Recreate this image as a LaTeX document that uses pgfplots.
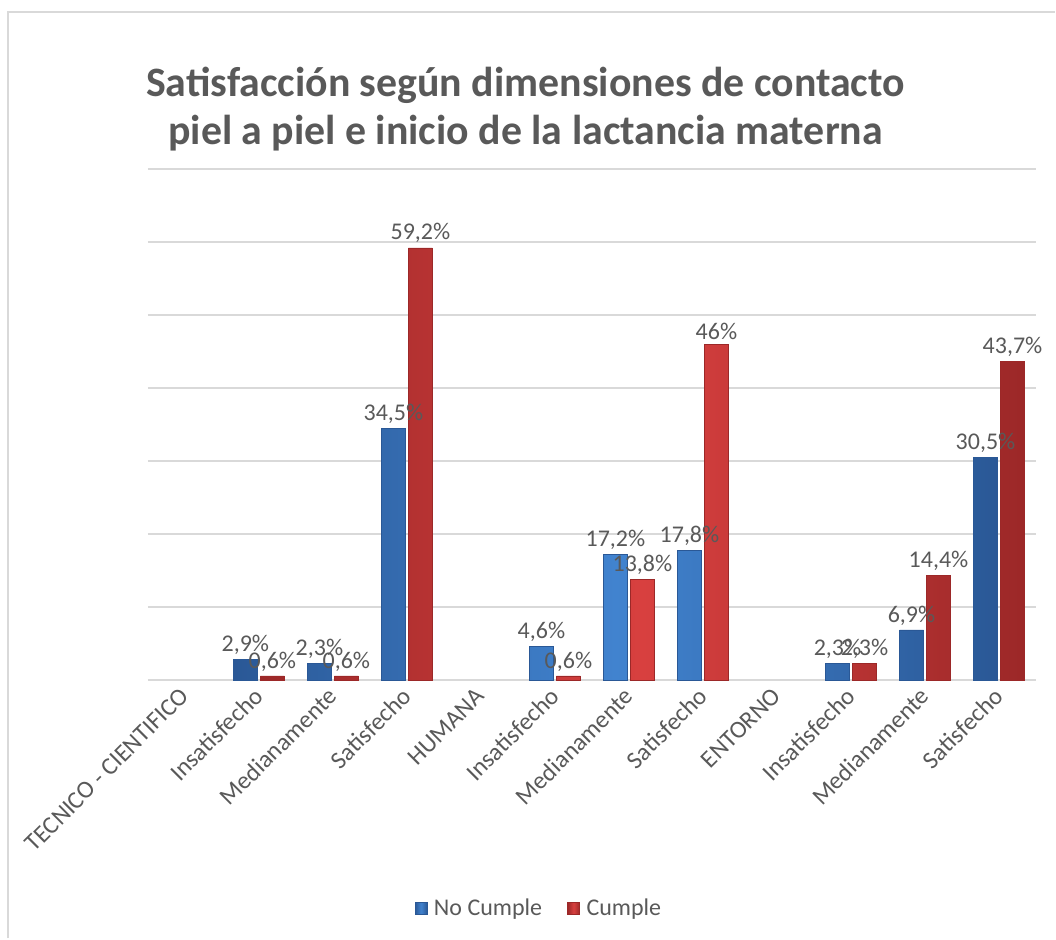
\documentclass[border=0pt]{standalone}
\usepackage{fontspec}
\setmainfont{Carlito}
\usepackage{pgfplots}
\pgfplotsset{compat=1.18}
\definecolor{txt}{HTML}{595959}
\definecolor{gridc}{HTML}{D9D9D9}
\definecolor{bluem}{HTML}{4183CF}
\definecolor{bluee}{HTML}{2A5896}
\definecolor{redm}{HTML}{D8403F}
\definecolor{rede}{HTML}{9C2828}

\begin{document}
\begin{tikzpicture}
\path (0,0) rectangle (792pt,-704.25pt);
\draw[gridc, line width=1.5pt] (6pt,-704.25pt) -- (6pt,-9pt) -- (792pt,-9pt);
\node[font=\fontsize{31.4}{36}\selectfont\bfseries, text=txt, align=center]
  at (394.5pt,-82pt) {Satisfacción según dimensiones de contacto\\piel a piel e inicio de la lactancia materna};
\begin{axis}[
  at={(111pt,-510.75pt)}, anchor=south west,
  scale only axis, width=666.75pt, height=384pt,
  xmin=-0.5, xmax=11.5, ymin=0, ymax=70,
  ybar=2.25pt, bar width=18pt,
  xtick={0,...,11},
  xticklabels={TECNICO - CIENTIFICO, Insatisfecho, Medianamente, Satisfecho,
    HUMANA, Insatisfecho, Medianamente, Satisfecho,
    ENTORNO, Insatisfecho, Medianamente, Satisfecho},
  xticklabel style={rotate=45, anchor=east, yshift=-3pt, font=\fontsize{18.5}{20}\selectfont, text=txt},
  ytick={0,10,...,70}, yticklabels={},
  ymajorgrids, major grid style={gridc, line width=1.5pt},
  axis line style={draw=none}, tick style={draw=none},
  clip=false,
  nodes near coords={\pgfmathprintnumber[fixed, precision=1, use comma, assume math mode=true]{\pgfplotspointmeta}\%},
  every node near coord/.append style={font=\fontsize{18}{20}\selectfont, text=txt},
  legend style={at={(0.443,-0.445)}, anchor=center, draw=none, fill=none,
    legend columns=2, font=\fontsize{18}{20}\selectfont, text=txt,
    nodes={inner xsep=5pt},
    /tikz/every even column/.append style={column sep=14pt}},
  legend image code/.code={\fill[#1] (0pt,-4.5pt) rectangle (9pt,4.5pt);},
]
\addplot[draw=bluee, left color=bluee, right color=bluee, middle color=bluem] coordinates {
(1,2.9)(2,2.3)(3,34.5)(5,4.6)(6,17.2)(7,17.8)(9,2.3)(10,6.9)(11,30.5)};
\addlegendentry{No Cumple}
\addplot[draw=rede, left color=rede, right color=rede, middle color=redm] coordinates {
(1,0.6)(2,0.6)(3,59.2)(5,0.6)(6,13.8)(7,46)(9,2.3)(10,14.4)(11,43.7)};
\addlegendentry{Cumple}
\end{axis}
\end{tikzpicture}
\end{document}
